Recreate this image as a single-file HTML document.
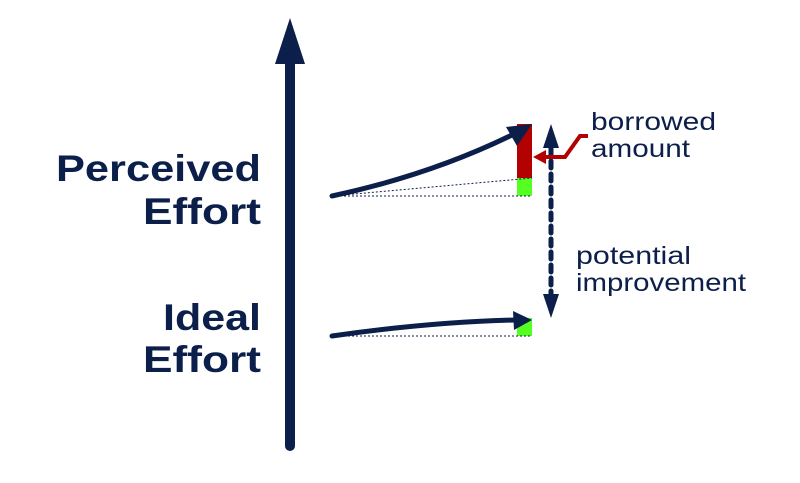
<!DOCTYPE html>
<html><head><style>
html,body{margin:0;padding:0;background:#fff;width:800px;height:483px;overflow:hidden}
</style></head><body>
<svg width="800" height="483" viewBox="0 0 800 483" xmlns="http://www.w3.org/2000/svg">
<g fill="#0c1f4a">
<line x1="290" y1="60" x2="290" y2="446" stroke="#0c1f4a" stroke-width="10" stroke-linecap="round"/>
<polygon points="290,18 275,64 305,64"/>
</g>
<g font-family="Liberation Sans, sans-serif" font-weight="bold" font-size="37" fill="#0c1f4a" text-anchor="end" lengthAdjust="spacingAndGlyphs">
<text x="261" y="181" textLength="205" lengthAdjust="spacingAndGlyphs">Perceived</text>
<text x="261" y="224" textLength="118" lengthAdjust="spacingAndGlyphs">Effort</text>
<text x="261" y="330" textLength="98" lengthAdjust="spacingAndGlyphs">Ideal</text>
<text x="261" y="372" textLength="118" lengthAdjust="spacingAndGlyphs">Effort</text>
</g>
<rect x="517" y="124" width="15" height="54" fill="#b30000"/>
<rect x="517" y="178" width="15" height="18" fill="#55ff22"/>
<rect x="517" y="318" width="15" height="18" fill="#55ff22"/>
<g stroke="#0c1f4a" stroke-width="1" stroke-dasharray="2,2" fill="none">
<line x1="332" y1="196" x2="532" y2="196"/>
<line x1="332" y1="196" x2="532" y2="178"/>
<line x1="332" y1="336" x2="532" y2="336"/>
</g>
<g stroke="#0c1f4a" stroke-width="5" fill="none" stroke-linecap="round">
<path d="M332,196 Q430,175 512,135"/>
<path d="M332,336 Q430,322 515,320"/>
</g>
<polygon points="532,124 506,127 517,146" fill="#0c1f4a"/>
<polygon points="532,320 513,311 514,330" fill="#0c1f4a"/>
<line x1="551" y1="148" x2="551" y2="296" stroke="#0c1f4a" stroke-width="5" stroke-dasharray="7,6" stroke-linecap="round"/>
<polygon points="551,124 543,148 559,148" fill="#0c1f4a"/>
<polygon points="551,318 543,294 559,294" fill="#0c1f4a"/>
<polyline points="588,136 580,136 565,157 542,157" stroke="#b30000" stroke-width="4" fill="none"/>
<polygon points="533,157 546,150 546,164" fill="#b30000"/>
<g font-family="Liberation Sans, sans-serif" font-size="25" fill="#0c1f4a">
<text x="591" y="130" textLength="125" lengthAdjust="spacingAndGlyphs">borrowed</text>
<text x="591" y="157" textLength="99" lengthAdjust="spacingAndGlyphs">amount</text>
<text x="576" y="264" textLength="115" lengthAdjust="spacingAndGlyphs">potential</text>
<text x="576" y="291" textLength="170" lengthAdjust="spacingAndGlyphs">improvement</text>
</g>
</svg>
</body></html>
